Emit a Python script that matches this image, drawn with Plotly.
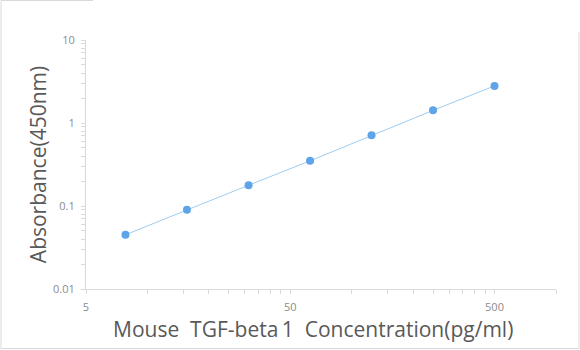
import plotly.graph_objects as go

concentration = [7.8, 15.6, 31.25, 62.5, 125, 250, 500]
absorbance = [0.045, 0.09, 0.178, 0.35, 0.71, 1.42, 2.8]

x_ticks = [5, 50, 500]
x_tick_text = ["5", "50", "500"]
y_ticks = [0.01, 0.1, 1, 10]
y_tick_text = ["0.01", "0.1", "1", "10"]
x_minor = [5 * k * 10 ** n for n in range(0, 3) for k in range(2, 10)] + [1000]
y_minor = [k * 10.0 ** n for n in range(-2, 1) for k in range(2, 10)]

x_title = "Mouse\u00a0 TGF-beta\u20091\u00a0 Concentration(pg/ml)"
y_title = "Absorbance(450nm)"

AX = "#d9d9d9"
TICKFONT = dict(family="Open Sans", size=11, color="#8c8c8c")
TITLEFONT = dict(family="Open Sans", size=21, color="#595959")

fig = go.Figure()
fig.add_trace(go.Scatter(
    x=concentration, y=absorbance, mode="lines+markers",
    line=dict(color="#9fcdf2", width=1),
    marker=dict(color="#5ea4e8", size=8),
    showlegend=False,
))

L, R, T, B = 86, 24, 40, 61
W, H = 580, 350
pw, ph = W - L - R, H - T - B

def px(x):
    return (x - L) / pw

def py(y):
    return (H - B - y) / ph

fig.update_layout(
    width=W, height=H,
    margin=dict(l=L, r=R, t=T, b=B),
    paper_bgcolor="white", plot_bgcolor="white",
    xaxis=dict(
        type="log", range=[0.69897, 3.0],
        tickvals=x_ticks, ticktext=x_tick_text,
        showgrid=False, zeroline=False,
        showline=True, linecolor=AX, linewidth=1,
        ticks="outside", ticklen=4, tickcolor=AX,
        tickfont=TICKFONT, ticklabelstandoff=4,
        minor=dict(tickvals=x_minor, ticks="outside", ticklen=4, tickcolor=AX, showgrid=False),
    ),
    yaxis=dict(
        type="log", range=[-2, 1],
        tickvals=y_ticks, ticktext=y_tick_text,
        showgrid=False, zeroline=False,
        showline=True, linecolor=AX, linewidth=1,
        ticks="outside", ticklen=4, tickcolor=AX,
        tickfont=TICKFONT, ticklabelstandoff=4,
        minor=dict(tickvals=y_minor, ticks="outside", ticklen=4, tickcolor=AX, showgrid=False),
        title=dict(text=y_title, font=TITLEFONT, standoff=0),
    ),
    annotations=[
        dict(text=x_title, font=TITLEFONT, xref="paper", yref="paper",
             x=px(313), y=py(329), xanchor="center", yanchor="middle", showarrow=False),
    ],
    shapes=[
        dict(type="line", xref="paper", yref="paper", x0=px(1), x1=px(1), y0=py(0.5), y1=py(348.5), line=dict(color=AX, width=1)),
        dict(type="line", xref="paper", yref="paper", x0=px(1), x1=px(579), y0=py(348.5), y1=py(348.5), line=dict(color=AX, width=1)),
        dict(type="line", xref="paper", yref="paper", x0=px(579), x1=px(579), y0=py(32), y1=py(348.5), line=dict(color=AX, width=1)),
        dict(type="line", xref="paper", yref="paper", x0=px(1), x1=px(93), y0=py(0.5), y1=py(0.5), line=dict(color=AX, width=1)),
    ],
)

fig.write_html("out.html")
